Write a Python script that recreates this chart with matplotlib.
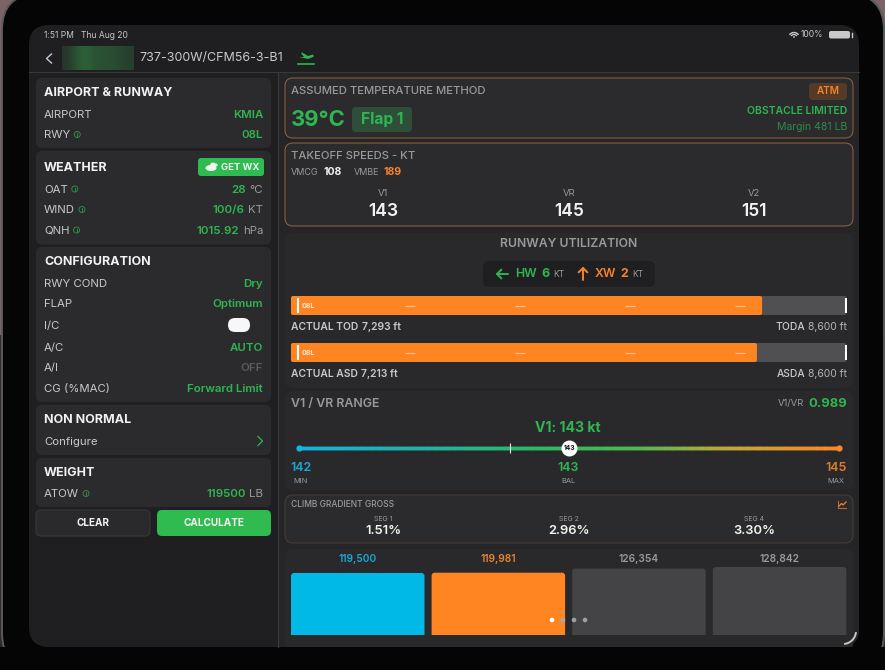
import numpy as np
import matplotlib
matplotlib.use("Agg")
import matplotlib.pyplot as plt
from matplotlib.patches import FancyBboxPatch, Circle, Rectangle, Polygon, Ellipse, Arc
from matplotlib.collections import LineCollection
from matplotlib.colors import LinearSegmentedColormap

# ---------- content ----------
status_left = "1:51 PM   Thu Aug 20"
aircraft = "737-300W/CFM56-3-B1"

airport_rows = [("AIRPORT", "KMIA", "", False), ("RWY", "08L", "", True)]
weather_rows = [("OAT", "28", "°C", True), ("WIND", "100/6", "KT", True), ("QNH", "1015.92", "hPa", True)]
config_rows = [("RWY COND", "Dry"), ("FLAP", "Optimum"), ("I/C", None), ("A/C", "AUTO"),
               ("A/I", "OFF"), ("CG (%MAC)", "Forward Limit")]

speed_labels = ["V1", "VR", "V2"]
speed_values = [143, 145, 151]
runway_names = ["TOD", "ASD"]
runway_actual = [7293, 7213]
runway_avail_names = ["TODA", "ASDA"]
runway_avail = [8600, 8600]
range_labels = ["MIN", "BAL", "MAX"]
range_values = [142, 143, 145]
climb_labels = ["SEG 1", "SEG 2", "SEG 4"]
climb_values = [1.51, 2.96, 3.30]
weights = [119500, 119981, 126354, 128842]

# ---------- palette ----------
GREEN = "#2fb551"
DGREEN = "#2f8a4a"
ORANGE = "#f5842a"
BLUE = "#1ba7d3"
WHITE = "#f2f2f2"
LGRAY = "#c9c9cb"
GRAY = "#9a9a9c"
CARD = "#2b2b2d"
PANE_L = "#1f1f21"
PANE_R = "#252527"
FONT = "Inter"

W, H = 885, 670
fig = plt.figure(figsize=(W / 100, H / 100), dpi=100)
fig.patch.set_facecolor("#3a2b30")
plt.rcParams["font.family"] = [FONT, "DejaVu Sans"]


def full_axes(z):
    a = fig.add_axes([0, 0, 1, 1], zorder=z)
    a.set_xlim(0, W)
    a.set_ylim(H, 0)
    a.axis("off")
    return a


def px_axes(x0, y0, x1, y1, z=1):
    a = fig.add_axes([x0 / W, 1 - y1 / H, (x1 - x0) / W, (y1 - y0) / H], zorder=z)
    a.axis("off")
    return a


ax = full_axes(0)
top = full_axes(5)
renderer = fig.canvas.get_renderer()


def rbox(x0, y0, x1, y1, r=6, fc=CARD, ec="none", lw=0, a=None, z=2):
    a = a or ax
    p = FancyBboxPatch((x0, y0), x1 - x0, y1 - y0, boxstyle=f"round,pad=0,rounding_size={r}",
                       fc=fc, ec=ec, lw=lw, zorder=z)
    a.add_patch(p)
    return p


def T(x, y, s, px=10, c=WHITE, w="normal", ha="left", a=None, z=6):
    a = a or ax
    return a.text(x, y + 0.7, s, fontsize=px / 1.389, color=c, fontweight=w, ha=ha, va="center",
                  zorder=z, family=[FONT, "DejaVu Sans"])


def width(t):
    return t.get_window_extent(renderer).width


def T_right(xr, y, parts):
    """parts = [(text, px, colour, weight)] drawn so that the last ends at xr"""
    x = xr
    for s, px, c, wt in reversed(parts):
        t = T(x, y, s, px, c, wt, "right")
        x -= width(t) + px * 0.3


def info(x, y):
    ax.add_patch(Circle((x, y), 3, fc="none", ec=DGREEN, lw=0.7, zorder=6))
    ax.plot([x, x], [y - 1.3, y + 1.6], color=DGREEN, lw=0.7, zorder=6)


def arrow(x0, y0, x1, y1, c):
    """thin line with an open chevron head pointing at (x1, y1)"""
    ax.plot([x0, x1], [y0, y1], color=c, lw=1.4, zorder=6, solid_capstyle="round")
    dx, dy = np.sign(x1 - x0), np.sign(y1 - y0)
    s = 4.2
    ax.plot([x1 - dx * s + dy * s, x1, x1 - dx * s - dy * s],
            [y1 - dy * s + dx * s, y1, y1 - dy * s - dx * s], color=c, lw=1.4, zorder=6)


# ---------- device ----------
for (x0, y0, x1, y1, c) in [(0, 0, W, 335, "#7c6365"), (0, 335, W, H, "#33262c")]:
    ax.add_patch(Rectangle((x0, y0), x1 - x0, y1 - y0, fc=c, ec="none", zorder=0))
rbox(2, -6, 884, 669, r=36, fc="#050505", ec="#5a5a5c", lw=1.4, z=1)
rbox(29, 25, 859, 647, r=20, fc=PANE_L, z=1.5)
ax.add_patch(Rectangle((279, 72), 580, 560, fc=PANE_R, ec="none", zorder=1.6))
p = rbox(279, 600, 859, 647, r=18, fc=PANE_R, z=1.6)
ax.add_patch(Rectangle((279, 600), 30, 47, fc=PANE_R, ec="none", zorder=1.6))
ax.plot([29, 859], [72, 72], color="#38383a", lw=0.8, zorder=2)
ax.plot([278, 278], [72, 647], color="#38383a", lw=0.8, zorder=2)

# status bar
T(44, 34.3, status_left, 8.5, LGRAY)
T(801, 33.8, "100%", 8.5, LGRAY)
for r_ in (5.5, 3.5):
    ax.add_patch(Arc((794, 38), 2 * r_, 2 * r_, theta1=215, theta2=325, color=LGRAY, lw=1, zorder=6))
ax.add_patch(Circle((794, 37), 0.9, fc=LGRAY, ec="none", zorder=6))
rbox(829, 31, 850, 38.5, r=2, fc=LGRAY, z=6)
ax.plot([851.5, 851.5], [33, 36.5], color=LGRAY, lw=1, zorder=6)

# navigation
ax.plot([51.5, 46.5, 51.5], [54, 58.5, 63], color=LGRAY, lw=1.0, zorder=6)
blur = np.array([[0.25, 0.55, 0.9, 1.0, 0.75, 0.7, 0.7, 0.6, 0.5, 0.4]])
cm_blur = LinearSegmentedColormap.from_list("b", ["#26352b", "#2c6238"])
ax.imshow(blur, extent=(62, 134, 70, 46), cmap=cm_blur, aspect="auto", interpolation="bicubic", zorder=3)
ax.set_xlim(0, W)
ax.set_ylim(H, 0)
T(139, 57.8, aircraft, 12.5, LGRAY)
# take-off icon
ax.add_patch(Polygon([[299, 57], [308, 59], [314, 56.5], [313, 54.5], [308, 56], [302, 52.5], [301, 53], [304, 57]],
                     fc=GREEN, ec="none", zorder=6))
ax.plot([298, 314], [63.5, 63.5], color=GREEN, lw=1.2, zorder=6)

# ---------- left column ----------
LX0, LX1, TX, VX = 36, 271, 44, 264
LAB = 11.4
# airport & runway
rbox(LX0, 78, LX1, 148)
T(TX, 92.5, "AIRPORT & RUNWAY", 12.5, WHITE, "bold")
for (lab, val, unit, inf), y in zip(airport_rows, [114, 134.5]):
    t = T(TX, y, lab, LAB, LGRAY)
    if inf:
        info(TX + width(t) + 7, y)
    T(VX - 1, y, val, 11.5, GREEN, "semibold", "right")
# weather
rbox(LX0, 151, LX1, 244.5)
T(TX, 167, "WEATHER", 12.5, WHITE, "bold")
rbox(198, 158, 264, 176, r=3, fc="#2fbb50", z=3)
ax.add_patch(Ellipse((211, 168), 11, 6, fc="#f4f4f4", ec="none", zorder=6))
ax.add_patch(Circle((213, 165.5), 3, fc="#f4f4f4", ec="none", zorder=6))
ax.add_patch(Circle((216, 165), 1.6, fc="#e8f5e8", ec="none", zorder=6))
T(221, 166.7, "GET WX", 9.5, WHITE, "bold")
for (lab, val, unit, inf), y in zip(weather_rows, [189, 209.5, 230]):
    t = T(TX, y, lab, LAB, LGRAY)
    info(TX + width(t) + 7, y)
    T_right(VX - 1, y, [(val, 11.5, GREEN, "semibold"), (unit, 11.5, GRAY, "normal")])
# configuration
rbox(LX0, 247, LX1, 402)
T(TX, 261.5, "CONFIGURATION", 12.5, WHITE, "bold")
for (lab, val), y in zip(config_rows, [283, 303.5, 325.5, 347, 367.5, 388]):
    T(TX, y, lab, LAB, LGRAY)
    if val is None:
        rbox(228, 318, 250, 332, r=7, fc="#f7f7f7", z=4)
    else:
        T(VX - 1, y, val, 11.5, "#5a5a5c" if val == "OFF" else GREEN, "semibold", "right")
# non normal
rbox(LX0, 405, LX1, 455)
T(TX, 419, "NON NORMAL", 12.5, WHITE, "bold")
T(TX, 441, "Configure", LAB, LGRAY)
ax.plot([258, 262.5, 258], [436.5, 441, 445.5], color=GREEN, lw=0.9, zorder=6)
# weight
rbox(LX0, 458, LX1, 507)
T(TX, 472, "WEIGHT", 12.5, WHITE, "bold")
t = T(TX, 493.5, "ATOW", LAB, LGRAY)
info(TX + width(t) + 7, 493.5)
T_right(VX - 1, 493.5, [(str(weights[0]), 11.5, GREEN, "semibold"), ("LB", 11.5, GRAY, "normal")])
# buttons
rbox(36, 510, 150, 536, r=5, fc="#2a2a2c", ec="#3a3a3c", lw=0.7)
T(93, 522.5, "CLEAR", 10, WHITE, "bold", "center")
rbox(157, 510, 271, 536, r=5, fc="#2fbb50")
T(214, 522.5, "CALCULATE", 10, WHITE, "bold", "center")

# ---------- right column ----------
RX0, RX1, RT, RR = 285, 853, 291, 847
BORDER = "#96663c"
# ATM
rbox(RX0, 78, RX1, 138, r=8, fc=CARD, ec=BORDER, lw=0.7)
T(RT, 90.5, "ASSUMED TEMPERATURE METHOD", 11.3, GRAY, "medium")
T(RT, 119, "39°C", 22, GREEN, "bold")
rbox(352, 107, 412, 132, r=4, fc="#2e4e39", z=3)
T(382, 119, "Flap 1", 15.5, GREEN, "bold", "center")
rbox(809, 83, 847, 100, r=4, fc="#553a27", z=3)
T(828, 90.5, "ATM", 10, ORANGE, "semibold", "center")
T(RR, 110.5, "OBSTACLE LIMITED", 10.4, GREEN, "semibold", "right")
T(RR, 126.5, "Margin 481 LB", 10.5, "#2f8a4c", "normal", "right")

# takeoff speeds
rbox(RX0, 143, RX1, 226, r=8, fc=CARD, ec=BORDER, lw=0.7)
T(RT, 155.5, "TAKEOFF SPEEDS - KT", 11.3, GRAY, "medium")
T(RT, 171.5, "VMCG", 9, GRAY)
T(324, 171.5, "108", 10.5, WHITE, "bold")
T(354, 171.5, "VMBE", 9, GRAY)
T(384, 171.5, "189", 10.5, ORANGE, "bold")
col_x = [383, 569, 754]
for x, lab, val in zip(col_x, speed_labels, speed_values):
    T(x, 192.5, lab, 9.5, GRAY, ha="center")
    T(x, 211, str(val), 17.5, WHITE, "semibold", "center")

# runway utilization
rbox(RX0, 233, RX1, 388, r=8, fc="#29292b")
T(569, 243.5, "RUNWAY UTILIZATION", 12.2, GRAY, "semibold", "center")
rbox(483, 261, 655, 287, r=6, fc="#1f1f21", z=3)
arrow(508, 274, 497, 274, GREEN)
T(515, 273.5, "HW", 12.3, GREEN, "semibold")
T(541, 273.5, "6", 12.5, GREEN, "bold")
T(553, 274, "KT", 8.5, GRAY)
arrow(583, 280, 583, 268, ORANGE)
T(595, 273.5, "XW", 12.3, ORANGE, "semibold")
T(620, 273.5, "2", 12.5, ORANGE, "bold")
T(632, 274, "KT", 8.5, GRAY)

RW_X0, RW_X1 = 291, 846.5
rw_scale = runway_avail[0] / (RW_X1 - RW_X0)
dash_ft = [1842, 3545, 5248, 6950]
for i, (y0, y1, ty) in enumerate([(296, 315, 327), (343, 362, 374)]):
    a = px_axes(RW_X0, y0, RW_X1, y1)
    a.set_xlim(0, runway_avail[i])
    a.set_ylim(0, 1)
    asp = (1 / (y1 - y0)) / rw_scale
    for xe, col in [(runway_avail[i], "#505052"), (runway_actual[i], "#ff8522")]:
        pp = FancyBboxPatch((0, 0), xe, 1, boxstyle=f"round,pad=0,rounding_size={2 * rw_scale}",
                            mutation_aspect=asp, fc=col, ec="none")
        a.add_patch(pp)
    a.vlines([6.5 * rw_scale, runway_avail[i] - 0.7 * rw_scale], 0.1, 0.9, color="#ffffff", lw=1.5)
    a.hlines([0.5] * len(dash_ft), [d - 5 * rw_scale for d in dash_ft], [d + 5 * rw_scale for d in dash_ft],
             color="#ffc08a", lw=0.8)
    a.text(11 * rw_scale, 0.47, "08L", fontsize=5, color="#ffe6d0", fontweight="bold", va="center",
           family=FONT)
    t = T(RT, ty - 0.5, f"ACTUAL {runway_names[i]}", 10.3, LGRAY, "semibold")
    T(RT + width(t) + 3.5, ty - 0.5, f"{runway_actual[i]:,} ft", 10.3, LGRAY, "semibold")
    T_right(RR, ty - 0.5, [(runway_avail_names[i], 10.3, LGRAY, "medium"),
                           (f"{runway_avail[i]:,} ft", 10.3, "#b5b5b7", "normal")])

# V1 / VR range
rbox(RX0, 391, RX1, 490, r=8, fc="#29292b")
T(RT, 403, "V1 / VR RANGE", 12.4, GRAY, "semibold")
T(RR, 403, "0.989", 13, GREEN, "bold", "right")
T(804, 403, "V1/VR", 9.5, GRAY, ha="right")
T(568, 427.5, f"V1: {range_values[1]} kt", 14, GREEN, "bold", "center")
sl_unit = 269.5
sa = px_axes(289, 438, 848, 458, 2)
sa.set_xlim(-10 / sl_unit, 2 + 9 / sl_unit)
sa.set_ylim(-1, 1)
cm_sl = LinearSegmentedColormap.from_list(
    "sl", [(0, "#14b3e0"), (0.22, "#20b2a8"), (0.45, "#2fb860"), (0.62, "#4cb84f"), (0.8, "#c2a83a"), (1, "#ff8626")])
xs = np.linspace(0, 2, 200)
segs = np.stack([np.c_[xs[:-1], np.zeros(199)], np.c_[xs[1:], np.zeros(199)]], axis=1)
sa.add_collection(LineCollection(segs, colors=cm_sl(xs[:-1] / 2), linewidths=2.5, capstyle="projecting"))
sa.plot([0], [0], "o", ms=4.5, color="#14b3e0", mec="none")
sa.plot([2], [0], "o", ms=4.5, color="#ff8626", mec="none")
sa.vlines([0.783], -0.5, 0.5, color="#e6e6e6", lw=0.8)
sa.plot([1], [0], "o", ms=11.5, color="#ffffff", mec="none")
sa.text(1, -0.02, str(range_values[1]), fontsize=4.8, color="#111111", fontweight="bold", ha="center", va="center",
        family=FONT)
for x, val, lab, col in zip([301, 568, 836], range_values, range_labels, [BLUE, GREEN, "#e07c28"]):
    T(x, 467.5, str(val), 12.5, col, "semibold", "center")
    T(x, 480, lab, 7.5, GRAY, ha="center")

# climb gradient
rbox(RX0, 495, RX1, 543, r=8, fc=CARD, ec="#4a3f36", lw=0.7)
T(RT, 504, "CLIMB GRADIENT GROSS", 8.5, GRAY, "medium")
ax.plot([838, 838, 846], [501, 508, 508], color="#b56a2a", lw=0.8, zorder=6)
ax.plot([839, 841.5, 843, 846], [506, 503.5, 505, 502], color=ORANGE, lw=0.9, zorder=6)
for x, lab, val in zip(col_x, climb_labels, climb_values):
    T(x, 518, lab, 7, GRAY, ha="center")
    T(x, 530.5, f"{val:.2f}%", 13, WHITE, "semibold", "center")

# weights bars
rbox(RX0, 549, RX1, 652, r=8, fc="#29292b", z=1.8)
ax.add_patch(Rectangle((0, 647), W, 30, fc="#050505", ec="none", zorder=1.9))
bar_cols = ["#00b9e6", "#ff8522", "#444446", "#444446"]
lab_cols = [BLUE, "#e8842e", GRAY, GRAY]
pitch = 140.6
bw = 133.5
per_px = 1557.0
ba = px_axes(291, 560, 847, 635)
ba.set_xlim(0, 556)
base = weights[0] - 62 * per_px
ba.set_ylim(base, base + 75 * per_px)
for i, wv in enumerate(weights):
    x = i * pitch
    ba.add_patch(FancyBboxPatch((x, base - 20 * per_px), bw, wv - base + 20 * per_px,
                                boxstyle="round,pad=0,rounding_size=3", mutation_aspect=per_px,
                                fc=bar_cols[i], ec="none"))
    T(291 + x + bw / 2, 558, f"{wv:,}", 10.2, lab_cols[i], "semibold", "center")

# page dots + scroll corner
for x, c in zip([552, 563, 574, 585], ["#ffffff", "#a8a8a8", "#a0a0a0", "#a0a0a0"]):
    top.add_patch(Circle((x, 620), 2.3, fc=c, ec="none"))
top.add_patch(Arc((843, 631), 26, 26, theta1=5, theta2=85, color="#c8c8c8", lw=1.4))

fig.savefig("out.png", dpi=100, facecolor=fig.get_facecolor())
